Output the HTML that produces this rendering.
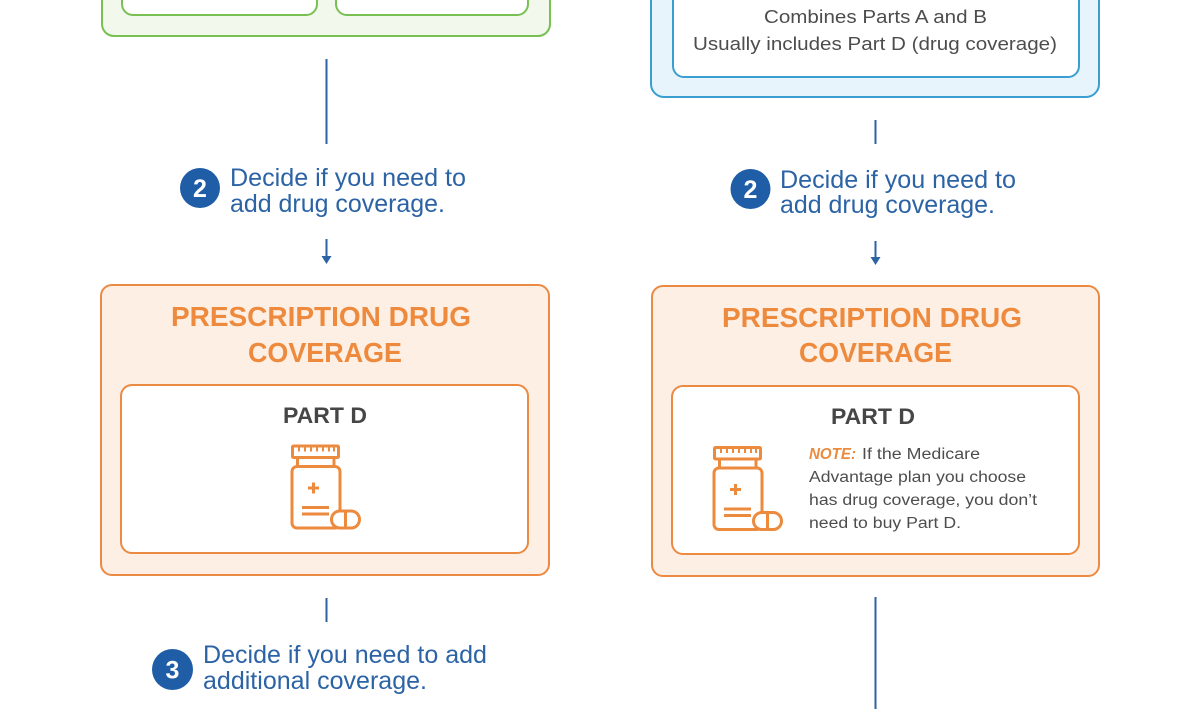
<!DOCTYPE html>
<html>
<head>
<meta charset="utf-8">
<style>
html,body{margin:0;padding:0;background:#fff;}
body{width:1200px;height:709px;overflow:hidden;}
svg{display:block;}
text{font-family:"Liberation Sans",sans-serif;}
</style>
</head>
<body>
<svg width="1200" height="709" viewBox="0 0 1200 709" xmlns="http://www.w3.org/2000/svg">
  <defs>
    <g id="bottle" fill="none" stroke="#ec8a3e" stroke-width="3" stroke-linejoin="round">
      <rect x="292.5" y="446" width="46" height="11.5" rx="1"/>
      <g stroke-width="2">
        <line x1="299" y1="447" x2="299" y2="451.5"/>
        <line x1="305" y1="447" x2="305" y2="451.5"/>
        <line x1="311" y1="447" x2="311" y2="451.5"/>
        <line x1="317" y1="447" x2="317" y2="451.5"/>
        <line x1="323" y1="447" x2="323" y2="451.5"/>
        <line x1="329" y1="447" x2="329" y2="451.5"/>
        <line x1="334" y1="447" x2="334" y2="451.5"/>
      </g>
      <line x1="297.5" y1="457.5" x2="297.5" y2="466.5"/>
      <line x1="334" y1="457.5" x2="334" y2="466.5"/>
      <rect x="292" y="466.5" width="48" height="61.5" rx="5"/>
      <line x1="313.5" y1="482.5" x2="313.5" y2="493.5"/>
      <line x1="308" y1="488" x2="319" y2="488"/>
      <line x1="302" y1="507.5" x2="329" y2="507.5"/>
      <line x1="302" y1="514" x2="329" y2="514"/>
      <rect x="331.5" y="511" width="28" height="17" rx="8.5" fill="#fff"/>
      <line x1="345.5" y1="511" x2="345.5" y2="528"/>
    </g>
  </defs>

  <!-- Green box (top-left) -->
  <rect x="102" y="-20" width="448" height="56" rx="12" fill="#f2f8ec" stroke="#78c052" stroke-width="2"/>
  <rect x="122" y="-20" width="195" height="35" rx="11" fill="#fff" stroke="#78c052" stroke-width="2"/>
  <rect x="336" y="-20" width="192" height="35" rx="11" fill="#fff" stroke="#78c052" stroke-width="2"/>

  <!-- Blue box (top-right) -->
  <rect x="651" y="-20" width="448" height="117" rx="13" fill="#e7f4fb" stroke="#3a9fd0" stroke-width="2"/>
  <rect x="673" y="-20" width="406" height="97" rx="11" fill="#fff" stroke="#3a9fd0" stroke-width="2"/>
  <text x="764" y="23" font-size="18" fill="#4d4d4d" textLength="223" lengthAdjust="spacingAndGlyphs">Combines Parts A and B</text>
  <text x="693" y="50" font-size="18" fill="#4d4d4d" textLength="364" lengthAdjust="spacingAndGlyphs">Usually includes Part D (drug coverage)</text>

  <!-- Left connectors -->
  <line x1="326.5" y1="59" x2="326.5" y2="144" stroke="#2d62a3" stroke-width="2"/>
  <circle cx="200" cy="188" r="20" fill="#1f5ea7"/>
  <text x="200" y="197" font-size="25" font-weight="bold" fill="#fff" text-anchor="middle">2</text>
  <text x="230" y="186" font-size="25" fill="#2c63a5" textLength="236" lengthAdjust="spacingAndGlyphs">Decide if you need to</text>
  <text x="230" y="212" font-size="25" fill="#2c63a5" textLength="215" lengthAdjust="spacingAndGlyphs">add drug coverage.</text>
  <line x1="326.5" y1="239" x2="326.5" y2="258" stroke="#2d62a3" stroke-width="2"/>
  <path d="M321.5 256 L331.5 256 L326.5 264 Z" fill="#2d62a3"/>

  <!-- Right connectors -->
  <line x1="875.5" y1="120" x2="875.5" y2="144" stroke="#2d62a3" stroke-width="2"/>
  <circle cx="750.5" cy="189" r="20" fill="#1f5ea7"/>
  <text x="750.5" y="198" font-size="25" font-weight="bold" fill="#fff" text-anchor="middle">2</text>
  <text x="780" y="188" font-size="25" fill="#2c63a5" textLength="236" lengthAdjust="spacingAndGlyphs">Decide if you need to</text>
  <text x="780" y="213" font-size="25" fill="#2c63a5" textLength="215" lengthAdjust="spacingAndGlyphs">add drug coverage.</text>
  <line x1="875.5" y1="241" x2="875.5" y2="259" stroke="#2d62a3" stroke-width="2"/>
  <path d="M870.5 257 L880.5 257 L875.5 265 Z" fill="#2d62a3"/>

  <!-- Left orange box -->
  <rect x="101" y="285" width="448" height="290" rx="11" fill="#fdefe4" stroke="#eb8a43" stroke-width="2"/>
  <text x="171" y="326" font-size="28" font-weight="bold" fill="#ee8a3d" textLength="300" lengthAdjust="spacingAndGlyphs">PRESCRIPTION DRUG</text>
  <text x="248" y="362" font-size="28" font-weight="bold" fill="#ee8a3d" textLength="154" lengthAdjust="spacingAndGlyphs">COVERAGE</text>
  <rect x="121" y="385" width="407" height="168" rx="11" fill="#fff" stroke="#eb8a43" stroke-width="2"/>
  <text x="283" y="423" font-size="22" font-weight="bold" fill="#464646" textLength="84" lengthAdjust="spacingAndGlyphs">PART D</text>
  <use href="#bottle"/>

  <!-- Right orange box -->
  <rect x="652" y="286" width="447" height="290" rx="11" fill="#fdefe4" stroke="#eb8a43" stroke-width="2"/>
  <text x="722" y="327" font-size="28" font-weight="bold" fill="#ee8a3d" textLength="300" lengthAdjust="spacingAndGlyphs">PRESCRIPTION DRUG</text>
  <text x="799" y="362" font-size="28" font-weight="bold" fill="#ee8a3d" textLength="153" lengthAdjust="spacingAndGlyphs">COVERAGE</text>
  <rect x="672" y="386" width="407" height="168" rx="11" fill="#fff" stroke="#eb8a43" stroke-width="2"/>
  <text x="831" y="424" font-size="22" font-weight="bold" fill="#464646" textLength="84" lengthAdjust="spacingAndGlyphs">PART D</text>
  <use href="#bottle" transform="translate(422,1.5)"/>
  <text x="809" y="459" font-size="15.5" font-weight="bold" font-style="italic" fill="#ec8a3e" textLength="47" lengthAdjust="spacingAndGlyphs">NOTE:</text>
  <text x="862" y="459" font-size="15.5" fill="#4d4d4d" textLength="118" lengthAdjust="spacingAndGlyphs">If the Medicare</text>
  <text x="809" y="482" font-size="15.5" fill="#4d4d4d" textLength="217" lengthAdjust="spacingAndGlyphs">Advantage plan you choose</text>
  <text x="809" y="505" font-size="15.5" fill="#4d4d4d" textLength="228" lengthAdjust="spacingAndGlyphs">has drug coverage, you don’t</text>
  <text x="809" y="528" font-size="15.5" fill="#4d4d4d" textLength="152" lengthAdjust="spacingAndGlyphs">need to buy Part D.</text>

  <!-- Bottom left -->
  <line x1="326.5" y1="598" x2="326.5" y2="622" stroke="#2d62a3" stroke-width="2"/>
  <circle cx="172.5" cy="669.5" r="20.5" fill="#1f5ea7"/>
  <text x="172.5" y="678.5" font-size="25" font-weight="bold" fill="#fff" text-anchor="middle">3</text>
  <text x="203" y="663" font-size="25" fill="#2c63a5" textLength="284" lengthAdjust="spacingAndGlyphs">Decide if you need to add</text>
  <text x="203" y="689" font-size="25" fill="#2c63a5" textLength="224" lengthAdjust="spacingAndGlyphs">additional coverage.</text>

  <!-- Bottom right -->
  <line x1="875.5" y1="597" x2="875.5" y2="709" stroke="#2d62a3" stroke-width="2"/>
</svg>
</body>
</html>
